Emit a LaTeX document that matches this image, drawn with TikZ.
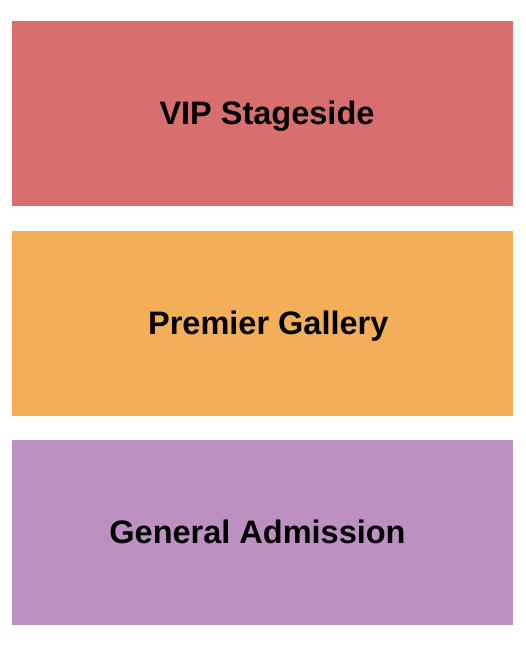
\documentclass[tikz,border=0pt]{standalone}
\usepackage{fontspec}
\setmainfont{Liberation Sans}
\definecolor{vipred}{RGB}{217,110,110}
\definecolor{premorange}{RGB}{243,174,90}
\definecolor{genpurple}{RGB}{188,144,193}
\begin{document}
\begin{tikzpicture}[x=1pt,y=-1pt,
  label/.style={inner sep=0pt,anchor=base,font=\fontsize{32.5}{32.5}\selectfont\bfseries,text=black}]
\useasboundingbox (0,0) rectangle (525,650);
\fill[white] (0,0) rectangle (525,650);
\fill[vipred] (12,21) rectangle (513,206);
\fill[premorange] (12,231) rectangle (513,416);
\fill[genpurple] (12,440) rectangle (513,625);
\node[label] (vip) at (267,124.3) {VIP Stageside};
\node[label] (prem) at (268.3,334.3) {Premier Gallery};
\node[label] (gen) at (257.5,543.8) {General Admission};
\end{tikzpicture}
\end{document}
